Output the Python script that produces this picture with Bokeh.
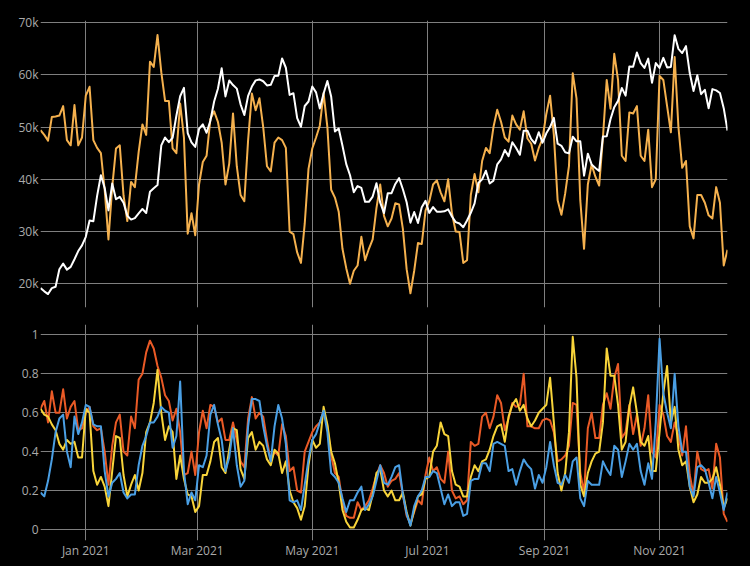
import pandas as pd
from bokeh.plotting import figure
from bokeh.layouts import column
from bokeh.models import (Range1d, FixedTicker, NumeralTickFormatter,
                          DatetimeTickFormatter, ColumnDataSource)
from bokeh.embed import file_html
from bokeh.resources import INLINE

# ---------------- data (one value every 2 days, from 2020-12-08) ----------------
start_date = "2020-12-08"
step_days = 2

price_k = [
    19.19, 18.56, 18.04, 19.17, 19.43, 22.80, 23.87, 22.72, 23.24, 24.71,
    26.27, 27.36, 28.99, 32.13, 31.97, 36.82, 40.78, 38.35, 34.05, 39.19,
    36.18, 36.63, 35.51, 33.01, 32.29, 32.57, 33.47, 34.32, 33.54, 37.62,
    38.29, 38.90, 46.48, 47.99, 47.10, 47.95, 52.15, 55.89, 57.49, 48.83,
    47.07, 46.20, 49.63, 50.52, 48.91, 51.20, 54.88, 57.33, 61.24, 55.86,
    58.91, 58.03, 57.35, 54.34, 52.30, 55.96, 57.75, 58.92, 59.10, 58.76,
    57.96, 58.08, 59.77, 59.79, 63.11, 61.34, 56.15, 56.47, 51.70, 50.05,
    54.02, 54.88, 57.75, 56.63, 53.55, 56.40, 58.80, 55.86, 49.15, 49.72,
    46.42, 42.91, 40.78, 37.53, 38.70, 38.35, 35.68, 35.68, 36.69, 39.24,
    35.52, 33.54, 37.34, 37.34, 39.10, 40.22, 38.10, 35.60, 31.70, 33.74,
    31.64, 34.65, 35.87, 33.57, 34.69, 33.80, 33.80, 33.87, 34.24, 32.87,
    31.80, 31.53, 30.84, 32.11, 33.59, 35.40, 39.30, 40.00, 41.63, 39.20,
    39.75, 42.85, 43.80, 45.60, 44.43, 47.10, 46.00, 44.70, 49.30, 49.30,
    47.70, 46.85, 49.00, 47.00, 48.80, 50.00, 51.75, 46.80, 46.40, 45.16,
    44.96, 48.15, 47.26, 47.26, 40.69, 44.90, 42.84, 42.17, 41.60, 48.20,
    48.23, 51.50, 53.80, 55.00, 57.48, 56.00, 61.60, 61.53, 64.26, 62.21,
    61.30, 63.08, 58.48, 62.23, 61.30, 63.23, 61.40, 61.50, 67.57, 64.95,
    64.15, 65.47, 60.33, 56.90, 59.90, 56.29, 57.12, 53.58, 57.25, 57.01,
    56.50, 53.60, 49.30,
]

signal_k = [
    49.4, 48.5, 47.4, 51.9, 52.0, 52.2, 54.0, 47.5, 46.5, 54.2,
    46.5, 48.0, 56.0, 57.7, 47.5, 46.0, 45.0, 38.0, 28.5, 38.5,
    45.9, 46.5, 36.9, 32.0, 39.5, 38.5, 45.2, 50.5, 48.5, 62.5,
    61.5, 67.6, 60.5, 55.0, 55.0, 45.9, 45.0, 54.5, 48.0, 29.6,
    33.5, 29.3, 39.0, 43.3, 44.5, 51.5, 53.0, 51.0, 47.0, 39.0,
    43.0, 52.6, 42.5, 37.0, 35.8, 47.5, 56.4, 53.2, 55.5, 50.0,
    42.5, 41.5, 47.0, 48.0, 47.5, 46.0, 30.0, 29.5, 26.0, 24.0,
    31.5, 42.0, 45.9, 48.0, 50.3, 56.5, 50.0, 38.0, 36.5, 33.8,
    26.7, 23.0, 20.0, 22.5, 23.5, 29.0, 24.5, 26.7, 28.5, 34.5,
    39.0, 33.0, 31.0, 32.5, 35.4, 35.2, 30.5, 22.8, 18.2, 22.5,
    27.8, 27.6, 34.0, 35.8, 39.0, 39.8, 37.5, 35.8, 40.0, 33.5,
    30.0, 29.9, 24.0, 24.5, 37.0, 41.0, 37.5, 43.5, 46.0, 45.0,
    50.0, 53.3, 51.0, 48.0, 47.2, 52.2, 50.5, 49.5, 53.0, 47.8,
    46.8, 43.6, 46.0, 47.8, 52.5, 56.0, 48.5, 36.0, 33.2, 37.3,
    42.5, 60.3, 55.5, 36.0, 26.7, 39.0, 42.8, 40.5, 38.8, 48.0,
    59.0, 53.5, 64.0, 59.0, 44.5, 43.5, 52.8, 52.6, 54.0, 44.5,
    43.5, 49.5, 38.5, 40.0, 59.8, 59.0, 54.0, 49.0, 63.4, 50.0,
    42.2, 43.5, 31.0, 28.7, 37.0, 37.0, 35.5, 33.1, 32.5, 38.5,
    35.5, 23.5, 26.5,
]

ind_red = [
    0.62, 0.66, 0.55, 0.71, 0.60, 0.60, 0.72, 0.57, 0.63, 0.66,
    0.51, 0.52, 0.60, 0.63, 0.53, 0.51, 0.52, 0.40, 0.23, 0.43,
    0.55, 0.59, 0.40, 0.38, 0.58, 0.52, 0.77, 0.80, 0.91, 0.97,
    0.93, 0.84, 0.78, 0.69, 0.66, 0.56, 0.62, 0.50, 0.28, 0.29,
    0.40, 0.28, 0.50, 0.61, 0.52, 0.64, 0.63, 0.55, 0.57, 0.46,
    0.46, 0.55, 0.46, 0.35, 0.32, 0.57, 0.68, 0.57, 0.60, 0.58,
    0.46, 0.35, 0.40, 0.38, 0.54, 0.48, 0.30, 0.32, 0.20, 0.19,
    0.40, 0.45, 0.50, 0.53, 0.55, 0.61, 0.53, 0.38, 0.29, 0.27,
    0.14, 0.07, 0.06, 0.06, 0.14, 0.10, 0.12, 0.15, 0.21, 0.28,
    0.33, 0.29, 0.22, 0.25, 0.26, 0.29, 0.18, 0.07, 0.03, 0.09,
    0.15, 0.13, 0.28, 0.37, 0.30, 0.32, 0.26, 0.24, 0.40, 0.20,
    0.16, 0.17, 0.13, 0.15, 0.45, 0.43, 0.44, 0.58, 0.60, 0.52,
    0.58, 0.69, 0.65, 0.51, 0.57, 0.65, 0.63, 0.64, 0.80, 0.53,
    0.53, 0.52, 0.52, 0.56, 0.57, 0.56, 0.50, 0.35, 0.36, 0.38,
    0.43, 0.65, 0.64, 0.29, 0.19, 0.52, 0.60, 0.47, 0.47, 0.64,
    0.70, 0.62, 0.78, 0.85, 0.47, 0.50, 0.64, 0.49, 0.59, 0.43,
    0.52, 0.69, 0.40, 0.37, 0.64, 0.59, 0.48, 0.45, 0.55, 0.48,
    0.38, 0.53, 0.28, 0.18, 0.40, 0.31, 0.30, 0.31, 0.21, 0.44,
    0.37, 0.08, 0.04,
]

ind_yellow = [
    0.62, 0.59, 0.58, 0.54, 0.51, 0.44, 0.41, 0.46, 0.44, 0.45,
    0.37, 0.37, 0.62, 0.60, 0.30, 0.23, 0.27, 0.22, 0.12, 0.30,
    0.48, 0.47, 0.28, 0.17, 0.23, 0.28, 0.20, 0.29, 0.50, 0.55,
    0.65, 0.82, 0.60, 0.46, 0.53, 0.50, 0.26, 0.38, 0.26, 0.18,
    0.17, 0.09, 0.12, 0.28, 0.28, 0.35, 0.45, 0.47, 0.32, 0.29,
    0.41, 0.52, 0.51, 0.31, 0.26, 0.47, 0.50, 0.41, 0.45, 0.43,
    0.36, 0.33, 0.41, 0.39, 0.29, 0.35, 0.20, 0.14, 0.11, 0.05,
    0.12, 0.33, 0.46, 0.42, 0.44, 0.63, 0.54, 0.40, 0.34, 0.24,
    0.10, 0.04, 0.01, 0.01, 0.05, 0.10, 0.11, 0.10, 0.18, 0.29,
    0.31, 0.20, 0.17, 0.20, 0.15, 0.15, 0.19, 0.09, 0.02, 0.10,
    0.17, 0.18, 0.26, 0.27, 0.40, 0.43, 0.55, 0.49, 0.48, 0.30,
    0.23, 0.22, 0.17, 0.17, 0.27, 0.33, 0.30, 0.35, 0.36, 0.41,
    0.48, 0.53, 0.54, 0.45, 0.58, 0.64, 0.67, 0.61, 0.64, 0.57,
    0.53, 0.56, 0.60, 0.62, 0.64, 0.78, 0.55, 0.29, 0.20, 0.29,
    0.50, 0.99, 0.78, 0.23, 0.17, 0.29, 0.35, 0.39, 0.40, 0.55,
    0.93, 0.79, 0.79, 0.64, 0.41, 0.45, 0.63, 0.73, 0.60, 0.45,
    0.43, 0.48, 0.30, 0.30, 0.50, 0.70, 0.84, 0.55, 0.63, 0.41,
    0.33, 0.35, 0.22, 0.14, 0.18, 0.27, 0.24, 0.24, 0.26, 0.32,
    0.23, 0.11, 0.16,
]

ind_blue = [
    0.19, 0.17, 0.25, 0.36, 0.50, 0.57, 0.59, 0.40, 0.32, 0.58,
    0.49, 0.55, 0.64, 0.63, 0.54, 0.53, 0.53, 0.30, 0.17, 0.24,
    0.26, 0.29, 0.19, 0.16, 0.18, 0.18, 0.33, 0.43, 0.48, 0.55,
    0.55, 0.58, 0.63, 0.61, 0.60, 0.42, 0.48, 0.76, 0.30, 0.13,
    0.19, 0.15, 0.33, 0.32, 0.38, 0.59, 0.64, 0.54, 0.46, 0.30,
    0.37, 0.52, 0.33, 0.22, 0.25, 0.53, 0.67, 0.67, 0.66, 0.53,
    0.43, 0.35, 0.53, 0.64, 0.57, 0.44, 0.15, 0.14, 0.15, 0.10,
    0.23, 0.36, 0.46, 0.49, 0.55, 0.61, 0.50, 0.29, 0.27, 0.24,
    0.16, 0.09, 0.15, 0.15, 0.19, 0.22, 0.10, 0.13, 0.17, 0.25,
    0.33, 0.24, 0.23, 0.27, 0.32, 0.33, 0.18, 0.08, 0.02, 0.12,
    0.17, 0.20, 0.27, 0.27, 0.30, 0.29, 0.21, 0.13, 0.18, 0.12,
    0.14, 0.14, 0.07, 0.08, 0.25, 0.26, 0.26, 0.34, 0.34, 0.30,
    0.44, 0.45, 0.44, 0.43, 0.30, 0.31, 0.23, 0.30, 0.36, 0.33,
    0.31, 0.21, 0.28, 0.24, 0.32, 0.45, 0.33, 0.24, 0.23, 0.28,
    0.24, 0.35, 0.37, 0.16, 0.12, 0.25, 0.23, 0.23, 0.23, 0.35,
    0.31, 0.28, 0.43, 0.41, 0.27, 0.35, 0.44, 0.41, 0.44, 0.30,
    0.23, 0.34, 0.26, 0.55, 0.98, 0.70, 0.60, 0.52, 0.80, 0.53,
    0.40, 0.40, 0.22, 0.17, 0.32, 0.33, 0.31, 0.24, 0.16, 0.27,
    0.19, 0.10, 0.19,
]

x_tick_dates = ["2021-01-01", "2021-03-01", "2021-05-01",
                "2021-07-01", "2021-09-01", "2021-11-01"]
top_ticks = [20000, 30000, 40000, 50000, 60000, 70000]
bottom_ticks = [0, 0.2, 0.4, 0.6, 0.8, 1]

# ---------------- build ----------------
dates = pd.date_range(start_date, periods=len(price_k), freq=f"{step_days}D")
src = ColumnDataSource(dict(
    date=dates,
    price=[v * 1000 for v in price_k],
    signal=[v * 1000 for v in signal_k],
    red=ind_red, yellow=ind_yellow, blue=ind_blue,
))

x_ticks_ms = [pd.Timestamp(d).value // 10**6 for d in x_tick_dates]
x_range = Range1d(start=dates[0], end=dates[-1])

BG = "#000000"
GRID = "#7f7f7f"
TICK_TXT = "#aaaaaa"
FONT = "Open Sans"


def style(p):
    p.background_fill_color = BG
    p.border_fill_color = BG
    p.outline_line_color = None
    for ax in p.axis:
        ax.axis_line_color = None
        ax.major_tick_line_color = None
        ax.minor_tick_line_color = None
        ax.major_tick_out = 0
        ax.major_tick_in = 0
        ax.major_label_text_color = TICK_TXT
        ax.major_label_text_font = FONT
        ax.major_label_text_font_size = "12px"
        ax.major_label_standoff = 2
    for g in p.grid:
        g.grid_line_color = GRID
        g.grid_line_width = 1


top = figure(width=750, height=315, x_axis_type="datetime", x_range=x_range,
             y_range=Range1d(15470, 70380), output_backend="svg",
             toolbar_location=None, min_border_left=40, min_border_right=23,
             min_border_top=20, min_border_bottom=8)
top.line("date", "signal", source=src, line_color="#f5b14e", line_width=2,
         line_join="round")
top.line("date", "price", source=src, line_color="#ffffff", line_width=2,
         line_join="round")
top.yaxis.ticker = FixedTicker(ticks=top_ticks)
top.yaxis.formatter = NumeralTickFormatter(format="0a")
top.ygrid.ticker = FixedTicker(ticks=top_ticks)
top.xgrid.ticker = FixedTicker(ticks=x_ticks_ms)
top.xaxis.visible = False
style(top)

bot = figure(width=750, height=251, x_axis_type="datetime", x_range=x_range,
             y_range=Range1d(-0.0565, 1.053), output_backend="svg",
             toolbar_location=None, min_border_left=40, min_border_right=23,
             min_border_top=9, min_border_bottom=26)
bot.line("date", "red", source=src, line_color="#ea5a26", line_width=2,
         line_join="round")
bot.line("date", "yellow", source=src, line_color="#f8d43a", line_width=2,
         line_join="round")
bot.line("date", "blue", source=src, line_color="#4a9fe4", line_width=2,
         line_join="round")
bot.yaxis.ticker = FixedTicker(ticks=bottom_ticks)
bot.yaxis.formatter = NumeralTickFormatter(format="0.[0]")
bot.ygrid.ticker = FixedTicker(ticks=bottom_ticks)
bot.xaxis.ticker = FixedTicker(ticks=x_ticks_ms)
bot.xgrid.ticker = FixedTicker(ticks=x_ticks_ms)
fmt = "%b %Y"
bot.xaxis.formatter = DatetimeTickFormatter(
    milliseconds=fmt, seconds=fmt, minsec=fmt, minutes=fmt, hourmin=fmt,
    hours=fmt, days=fmt, months=fmt, years=fmt)
style(bot)
bot.xaxis.major_label_standoff = 1

layout = column(top, bot, spacing=0, background=BG)

html = file_html(layout, INLINE, title="chart")
html = html.replace("</head>",
                    "<style>html, body { background-color: #000000; }</style></head>", 1)
with open("out.html", "w") as f:
    f.write(html)
